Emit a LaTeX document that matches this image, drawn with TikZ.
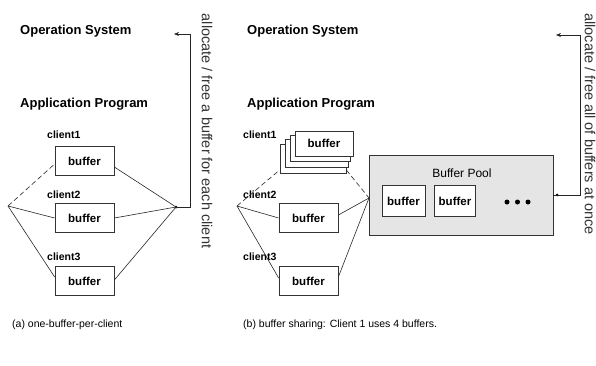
\documentclass[tikz,border=0pt]{standalone}
\usepackage{fontspec}
\setmainfont{Liberation Sans}
\usetikzlibrary{arrows.meta}
\begin{document}
\begin{tikzpicture}[x=1pt,y=-1pt,
  title/.style={font=\fontsize{13}{15}\selectfont\bfseries, anchor=west, inner sep=0pt},
  clabel/.style={font=\fontsize{10.5}{12}\selectfont\bfseries, anchor=west, inner sep=0pt},
  bufbox/.style={draw=black!80, line width=0.7pt, fill=white, minimum width=59pt, minimum height=29pt, inner sep=0pt, font=\fontsize{11.5}{13}\selectfont\bfseries},
  stackbox/.style={draw=black!80, line width=0.7pt, fill=white, inner sep=0pt},
  conn/.style={black!85, line width=0.6pt},
  dconn/.style={conn, dash pattern=on 5pt off 3pt},
  sidetext/.style={font=\fontsize{14.5}{16}\selectfont, rotate=-90, inner sep=0pt, text=black!80},
  caption/.style={font=\fontsize{10.5}{12}\selectfont, anchor=west, inner sep=0pt},
  jdot/.style={circle, fill=black, inner sep=0pt, minimum size=3pt},
  arr/.style={conn, -{Stealth[length=5pt,width=4pt]}}
]
\useasboundingbox (0,0) rectangle (596,365);

% ---------------- (a) ----------------
\node[title] (osA) at (20,31) {Operation System};
\node[title] (apA) at (20,104) {Application Program};

\node[clabel] (c1A) at (47,135) {client1};
\node[bufbox] (b1A) at (84.5,161) {buffer};
\node[clabel] (c2A) at (47,195) {client2};
\node[bufbox] (b2A) at (84.5,218) {buffer};
\node[clabel] (c3A) at (47,257) {client3};
\node[bufbox] (b3A) at (84.5,281) {buffer};

\coordinate (lA) at (8,206);
\node[jdot] (rA) at (176,207) {};

\draw[dconn] (lA) -- (b1A.west |- 0,164);
\draw[conn] (lA) -- (b2A.west);
\draw[conn] (lA) -- (b3A.west |- 0,277);
\draw[conn] (b1A.east |- 0,167) -- (rA.center);
\draw[conn] (b2A.east) -- (rA.center);
\draw[conn] (b3A.east |- 0,280) -- (rA.center);

\coordinate (tipA) at (174,34);
\draw[arr] (rA.center) -- (190,207) -- (190,34) -- (tipA);
\node[sidetext] (sA) at (207,131) {allocate / free a buffer for each client};

\node[caption] (capA) at (12,325) {(a) one-buffer-per-client};

% ---------------- (b) ----------------
\node[title] (osB) at (247,31) {Operation System};
\node[title] (apB) at (247,104) {Application Program};

\node[clabel] (c1B) at (243,135) {client1};
\node[stackbox, minimum width=66pt, minimum height=29pt] (s4) at (313,158.5) {};
\node[stackbox, minimum width=63pt, minimum height=28pt] (s3) at (316.5,153) {};
\node[stackbox, minimum width=60pt, minimum height=26pt] (s2) at (320,148) {};
\node[stackbox, minimum width=58pt, minimum height=25pt, font=\fontsize{11.5}{13}\selectfont\bfseries] (s1) at (324,143.5) {buffer};

\node[clabel] (c2B) at (243,195) {client2};
\node[bufbox] (b2B) at (308.5,218) {buffer};
\node[clabel] (c3B) at (243,257) {client3};
\node[bufbox] (b3B) at (308.5,281) {buffer};

% Buffer pool
\node[draw=black!80, line width=0.7pt, fill=black!10, minimum width=184pt, minimum height=80pt, inner sep=0pt] (pool) at (461,195) {};
\node[font=\fontsize{12}{14}\selectfont, inner sep=0pt] (pt) at (462,173) {Buffer Pool};
\node[draw=black!80, line width=0.7pt, fill=white, minimum width=43pt, minimum height=31pt, inner sep=0pt, font=\fontsize{11.5}{13}\selectfont\bfseries] (pa) at (403.5,201) {buffer};
\node[draw=black!80, line width=0.7pt, fill=white, minimum width=41pt, minimum height=31pt, inner sep=0pt, font=\fontsize{11.5}{13}\selectfont\bfseries] (pb) at (455,201) {buffer};
\node[jdot, minimum size=5pt] (d1) at (507,202) {};
\node[jdot, minimum size=5pt] (d2) at (517.5,202) {};
\node[jdot, minimum size=5pt] (d3) at (528,202) {};

\coordinate (lB) at (237,206);
\coordinate (rB) at (369,198);

\draw[dconn] (lB) -- (s4.west |- 0,170);
\draw[conn] (lB) -- (b2B.west);
\draw[conn] (lB) -- (b3B.west |- 0,278);
\draw[dconn] (s4.east |- 0,170) -- (rB);
\draw[conn] (b2B.east |- 0,215) -- (rB);
\draw[conn] (b3B.east |- 0,277) -- (rB);

\node[jdot] (jB) at (557,195) {};
\coordinate (tipB) at (556,35);
\draw[conn] (pool.east |- jB) -- (jB.center);
\draw[arr] (jB.center) -- (580,195) -- (580,35) -- (tipB);
\node[sidetext] (sB) at (590,124) {allocate / free all of buffers at once};

\node[caption] (capB) at (243,325) {(b) buffer sharing: Client 1 uses 4 buffers.};
\end{tikzpicture}
\end{document}
